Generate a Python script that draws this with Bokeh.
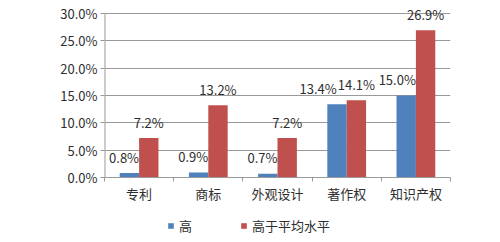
import numpy as np
from bokeh.plotting import figure
from bokeh.layouts import column
from bokeh.models import (ColumnDataSource, Range1d, FixedTicker, PrintfTickFormatter,
                          Legend, LegendItem, LabelSet)
from bokeh.transform import dodge
from bokeh.core.properties import value
from bokeh.embed import file_html
from bokeh.resources import INLINE

categories = ["专利", "商标", "外观设计", "著作权", "知识产权"]
series_names = ["高", "高于平均水平"]
high = [0.8, 0.9, 0.7, 13.4, 15.0]
above_avg = [7.2, 13.2, 7.2, 14.1, 26.9]
y_ticks = [0, 5, 10, 15, 20, 25, 30]

BLUE = "#4F81BD"
RED = "#C0504D"
FONT = "Noto Sans CJK SC"
TEXT = "#2e2e2e"
GRID = "#9a9a9a"

xpos = np.arange(len(categories)) + 0.5
bw = 0.28
src = ColumnDataSource(dict(
    x=xpos,
    xr=xpos + bw / 2,
    high=high,
    above=above_avg,
    high_lbl=[f"{v:.1f}%" for v in high],
    above_lbl=[f"{v:.1f}%" for v in above_avg],
    nudge=[0, 0, 0, -10, 0],  # label nudge to avoid overlap (style)
))

YMAX = y_ticks[-1]
p = figure(width=500, height=205, output_backend="svg", toolbar_location=None,
           x_range=Range1d(0, len(categories)), y_range=Range1d(0, YMAX + 1.6),
           min_border_left=104, min_border_right=50, min_border_top=4,
           min_border_bottom=26)
p.outline_line_color = None
p.background_fill_color = "white"
p.border_fill_color = "white"

r1 = p.vbar(x=dodge("x", -bw / 2), top="high", width=bw, source=src,
            fill_color=BLUE, line_color=None)
r2 = p.vbar(x=dodge("x", bw / 2), top="above", width=bw, source=src,
            fill_color=RED, line_color=None)

# y axis line only up to the top tick
p.segment(x0=[0], y0=[0], x1=[0], y1=[YMAX], line_color=GRID, line_width=2)

# labels
lb = LabelSet(x="x", y="high", text="high_lbl", source=src, y_offset=16,
              x_offset={"field": "nudge"},
              text_align="right", text_baseline="middle", text_font=value(FONT),
              text_font_size="13px", text_color=TEXT)
lr = LabelSet(x="xr", y="above", text="above_lbl", source=src, y_offset=16,
              text_align="center", text_baseline="middle", text_font=value(FONT),
              text_font_size="13px", text_color=TEXT)
p.add_layout(lb)
p.add_layout(lr)

# y axis
ya = p.yaxis[0]
ya.ticker = FixedTicker(ticks=y_ticks)
ya.formatter = PrintfTickFormatter(format="%.1f%%")
ya.axis_line_color = None
ya.major_tick_line_color = GRID
ya.major_tick_in = 0
ya.major_tick_out = 4
ya.minor_tick_line_color = None
ya.major_label_text_font = FONT
ya.major_label_text_font_size = "13px"
ya.major_label_text_color = TEXT
ya.major_label_standoff = 3

# x axis
xa = p.xaxis[0]
xa.ticker = FixedTicker(ticks=list(xpos), minor_ticks=list(range(len(categories) + 1)))
xa.major_label_overrides = {float(x): c for x, c in zip(xpos, categories)}
xa.axis_line_color = GRID
xa.major_tick_line_color = None
xa.major_tick_in = 0
xa.major_tick_out = 0
xa.minor_tick_line_color = GRID
xa.minor_tick_in = 0
xa.minor_tick_out = 4
xa.major_label_text_font = FONT
xa.major_label_text_font_size = "13px"
xa.major_label_text_color = TEXT
xa.major_label_standoff = 2

p.xgrid.grid_line_color = None
p.ygrid.ticker = FixedTicker(ticks=y_ticks)
p.ygrid.grid_line_color = GRID
p.ygrid.grid_line_width = 1

# legend strip (proxy renderers with zero width, so only the legend swatches show)
pl = figure(width=500, height=37, output_backend="svg", toolbar_location=None,
            x_range=Range1d(0, len(categories)), y_range=Range1d(0, 1),
            min_border_left=0, min_border_right=0, min_border_top=0, min_border_bottom=0)
pl.axis.visible = False
pl.grid.visible = False
pl.outline_line_color = None
pl.border_fill_color = "white"
lr1 = pl.vbar(x="x", top="high", width=0, source=src, fill_color=BLUE, line_color=None)
lr2 = pl.vbar(x="x", top="above", width=0, source=src, fill_color=RED, line_color=None)
legend = Legend(items=[LegendItem(label=series_names[0], renderers=[lr1]),
                       LegendItem(label=series_names[1], renderers=[lr2])],
                orientation="horizontal", location=(63, 7),
                glyph_width=7, glyph_height=7, label_standoff=5, spacing=41,
                padding=0, margin=0, border_line_color=None,
                background_fill_alpha=0,
                label_text_font=FONT, label_text_font_size="13px",
                label_text_color=TEXT)
pl.add_layout(legend)

layout = column(p, pl, spacing=0)
open("out.html", "w").write(file_html(layout, INLINE))
